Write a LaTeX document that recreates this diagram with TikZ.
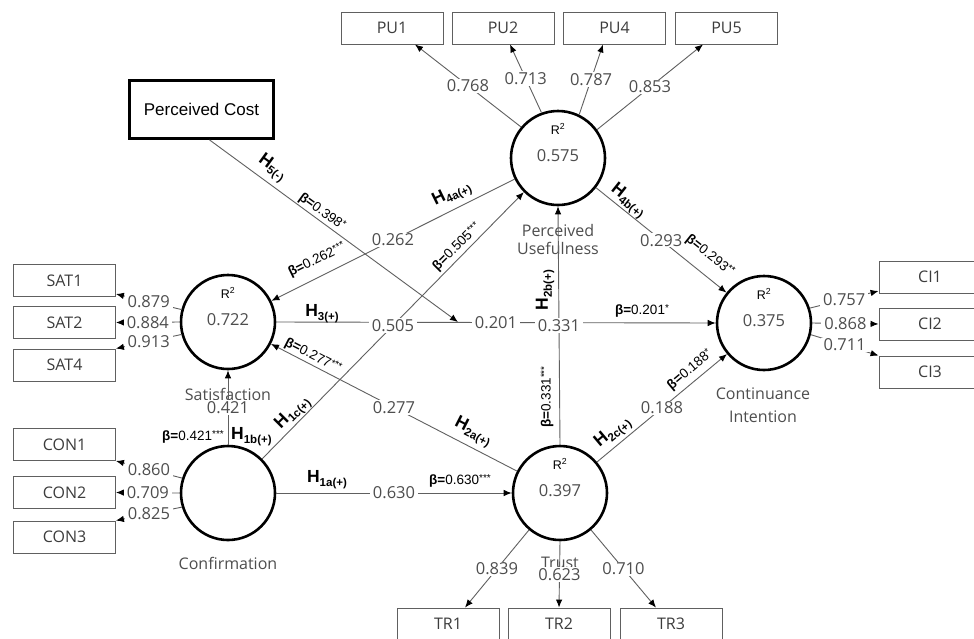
\documentclass[tikz,border=0pt]{standalone}
\usepackage{fontspec}
\setmainfont{Open Sans}
\newfontfamily\arialf{Liberation Sans}
\usetikzlibrary{arrows.meta}
\definecolor{numc}{HTML}{4E4E4E}
\definecolor{linec}{HTML}{606060}
\definecolor{boxt}{HTML}{3C3C3C}
\newcommand{\Hlab}[1]{H\raisebox{-4pt}{\fontsize{11.5}{12}\selectfont #1}}
\newcommand{\Blab}[2]{\textbf{β=}#1\raisebox{3pt}{\fontsize{10}{10}\selectfont #2}}
\begin{document}
\begin{tikzpicture}[x=1pt,y=-1pt,
 lv/.style={circle,draw=black,line width=2.6pt,minimum size=94pt,inner sep=0pt},
 indbox/.style={draw=linec,line width=0.9pt,minimum width=102pt,minimum height=32pt,inner sep=0pt,text=boxt,font=\fontsize{16}{18}\selectfont},
 costbox/.style={draw=black,line width=2.8pt,minimum width=144pt,minimum height=58pt,inner sep=0pt,font=\arialf\fontsize{17}{20}\selectfont},
 conn/.style={draw=linec,line width=0.9pt,-{Latex[length=8pt,width=6.5pt,color=black]}},
 val/.style={fill=white,inner xsep=3pt,inner ysep=1pt,text=numc,font=\fontsize{16.5}{18}\selectfont},
 cval/.style={inner sep=0pt,text=numc,font=\fontsize{16.5}{18}\selectfont},
 lvname/.style={text=numc,font=\fontsize{16}{18}\selectfont,align=center,inner sep=0pt},
 rsq/.style={font=\arialf\fontsize{12.5}{13}\selectfont,inner sep=0pt},
 hyp/.style={font=\arialf\bfseries\fontsize{17.5}{20}\selectfont,inner sep=0pt},
 beta/.style={font=\arialf\fontsize{13.5}{15}\selectfont,inner sep=0pt},
]
\useasboundingbox (0,0) rectangle (974,638);
\fill[white] (0,0) rectangle (974,638);
\clip (0,0) rectangle (974,638);

% latent variables
\node[lv] (PU) at (558,158) {};
\node[lv] (SAT) at (228,322) {};
\node[lv] (CI) at (764,323) {};
\node[lv] (CON) at (228,493) {};
\node[lv] (TR) at (560,493) {};

\node[rsq] (PUr) at (558,129) {R\textsuperscript{2}};
\node[cval] (PUv) at (558,156) {0.575};
\node[rsq] (SATr) at (228,293) {R\textsuperscript{2}};
\node[cval] (SATv) at (228,320) {0.722};
\node[rsq] (CIr) at (764,294) {R\textsuperscript{2}};
\node[cval] (CIv) at (764,321) {0.375};
\node[rsq] (TRr) at (560,464) {R\textsuperscript{2}};
\node[cval] (TRv) at (560,491) {0.397};

% indicator boxes
\node[indbox] (PU1) at (392,28) {PU1};
\node[indbox] (PU2) at (503,28) {PU2};
\node[indbox] (PU4) at (614.5,28) {PU4};
\node[indbox] (PU5) at (726.5,28) {PU5};
\node[indbox] (SAT1) at (64.5,280.5) {SAT1};
\node[indbox] (SAT2) at (64.5,322.5) {SAT2};
\node[indbox] (SAT4) at (64.5,365) {SAT4};
\node[indbox] (CON1) at (64.5,444.5) {CON1};
\node[indbox] (CON2) at (64.5,492.5) {CON2};
\node[indbox] (CON3) at (64.5,537) {CON3};
\node[indbox] (CI1) at (930,277) {CI1};
\node[indbox] (CI2) at (930,324) {CI2};
\node[indbox] (CI3) at (930,372) {CI3};
\node[indbox] (TR1) at (448,624) {TR1};
\node[indbox] (TR2) at (559,624) {TR2};
\node[indbox] (TR3) at (671,624) {TR3};
\node[costbox] (PC) at (201.5,109.5) {Perceived Cost};

% names
\node[lvname] (PUn) at (558,239) {Perceived\\Usefulness};
\node[lvname] (SATn) at (228,394) {Satisfaction};
\node[lvname] (CONn) at (228,563) {Confirmation};
\node[lvname] (TRn) at (560,563) {Trust};
\node[lvname,font=\fontsize{16}{23}\selectfont] (CIn) at (763,405) {Continuance\\Intention};

% indicator connectors
\draw[conn] (PU.140) -- ([xshift=23pt]PU1.south) node[midway,val]{0.768};
\draw[conn] (PU.110) -- ([xshift=7pt]PU2.south) node[midway,val]{0.713};
\draw[conn] (PU.64) -- ([xshift=-11.5pt]PU4.south) node[midway,val]{0.787};
\draw[conn] (PU.36) -- ([xshift=-23.5pt]PU5.south) node[midway,val]{0.853};
\draw[conn] (SAT.165) -- ([yshift=-13.5pt]SAT1.east) node[midway,val]{0.879};
\draw[conn] (SAT.180) -- (SAT2.east) node[midway,val]{0.884};
\draw[conn] (SAT.195) -- (SAT4.north east) node[midway,val]{0.913};
\draw[conn] (CON.162) -- (CON1.south east) node[midway,val]{0.860};
\draw[conn] (CON.180) -- (CON2.east) node[midway,val]{0.709};
\draw[conn] (CON.197) -- (CON3.north east) node[midway,val]{0.825};
\draw[conn] (CI.18) -- ([yshift=-14pt]CI1.west) node[midway,val]{0.757};
\draw[conn] (CI.0) -- (CI2.west) node[midway,val]{0.868};
\draw[conn] (CI.-14) -- (CI3.north west) node[midway,val]{0.711};
\draw[conn] (TR.230) -- ([xshift=17pt]TR1.north) node[midway,val]{0.839};
\draw[conn] (TR.270) -- (TR2.north) node[midway,val]{0.623};
\draw[conn] (TR.310) -- ([xshift=-15pt]TR3.north) node[midway,val]{0.710};

% structural paths
\coordinate (mod) at (458,322);
\draw[conn] (SAT.east) -- (CI.west) node[midway,val]{0.201};
\draw[conn] ([xshift=8pt]PC.south) -- (mod);
\draw[conn] (TR.north) -- (PU.south) node[midway,val]{0.331};
\draw[conn] (CON.45) -- (PU.225) node[midway,val]{0.505};
\draw[conn] (CON.north) -- (SAT.south) node[midway,val]{0.421};
\draw[conn] (CON.east) -- (TR.west) node[midway,val]{0.630};
\draw[conn] (TR.153) -- (SAT.-27) node[midway,val]{0.277};
\draw[conn] (TR.40) -- (CI.220) node[midway,val]{0.188};
\draw[conn] (PU.206) -- (SAT.26) node[midway,val]{0.262};
\draw[conn] (PU.-38.5) -- (CI.141.5) node[midway,val]{0.293};

% hypothesis labels
\node[hyp,rotate=-36] (h5) at (272,168) {\Hlab{5(-)}};
\node[beta,rotate=-36] (b5) at (322,212) {\Blab{0.398}{*}};
\node[hyp,rotate=26] (h4a) at (452,194) {\Hlab{4a(+)}};
\node[beta,rotate=26] (b4a) at (317,260) {\Blab{0.262}{***}};
\node[hyp,rotate=45] (h1c) at (293,413) {\Hlab{1c(+)}};
\node[beta,rotate=45] (b1c) at (457,247) {\Blab{0.505}{***}};
\node[hyp,rotate=-38.5] (h4b) at (628,201) {\Hlab{4b(+)}};
\node[beta,rotate=-38.5] (b4b) at (710,256) {\Blab{0.293}{**}};
\node[hyp] (h3) at (322,314) {\Hlab{3(+)}};
\node[beta] (b3) at (642,311) {\Blab{0.201}{*}};
\node[hyp,rotate=90] (h2b) at (545,290) {\Hlab{2b(+)}};
\node[beta,rotate=90] (b2b) at (547,397) {\Blab{0.331}{***}};
\node[hyp,rotate=-27] (h2a) at (473,432) {\Hlab{2a(+)}};
\node[beta,rotate=-27] (b2a) at (313,356) {\Blab{0.277}{***}};
\node[hyp,rotate=40] (h2c) at (613,433) {\Hlab{2c(+)}};
\node[beta,rotate=40] (b2c) at (690,370) {\Blab{0.188}{*}};
\node[hyp,anchor=west] (h1b) at (231,437) {\Hlab{1b(+)}};
\node[beta,anchor=east] (b1b) at (224,437) {\Blab{0.421}{***}};
\node[hyp] (h1a) at (327,480) {\Hlab{1a(+)}};
\node[beta] (b1a) at (460,481) {\Blab{0.630}{***}};
\end{tikzpicture}
\end{document}
